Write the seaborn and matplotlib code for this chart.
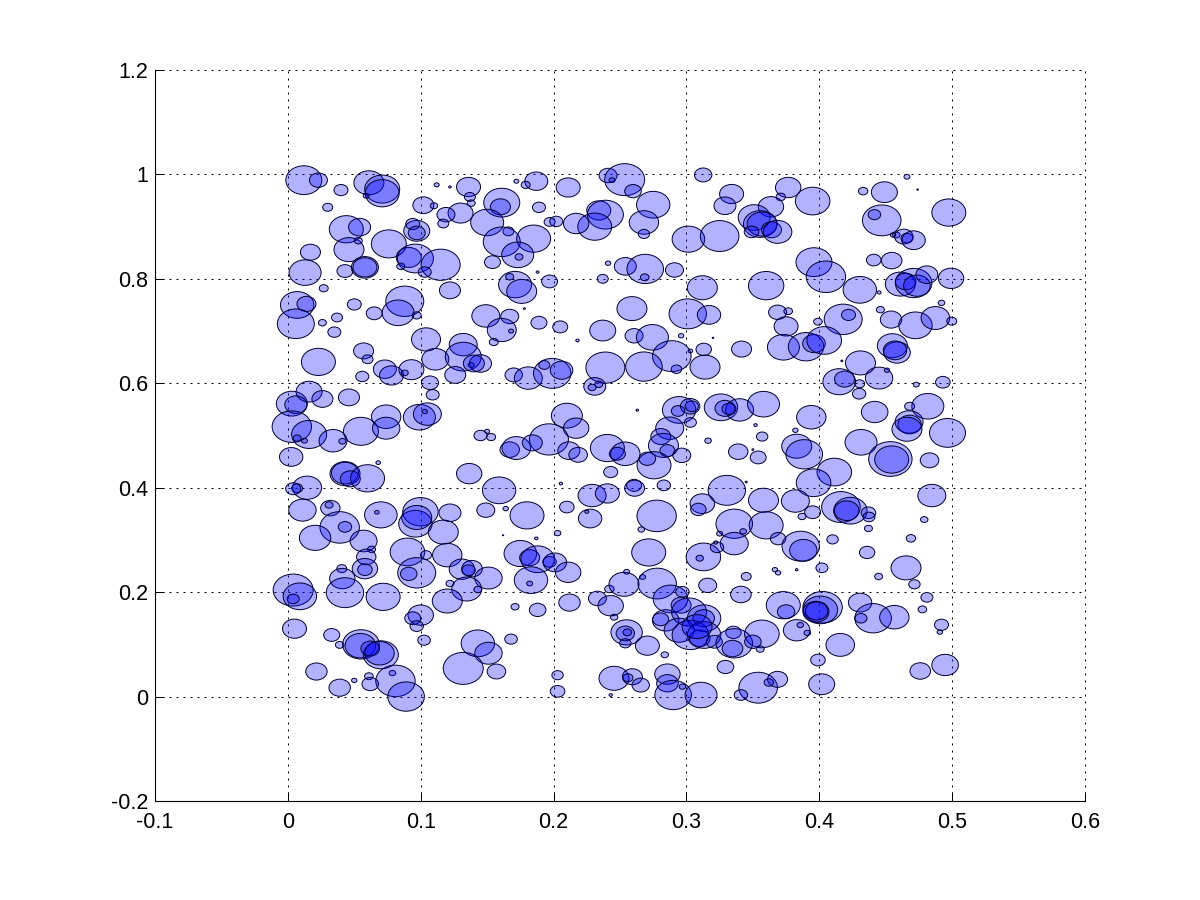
import numpy as np
import pandas as pd
import seaborn as sns
import matplotlib.pyplot as plt
from matplotlib.path import Path
from matplotlib.transforms import Affine2D

sns.set_style('white')
plt.rcParams['font.family'] = ['Liberation Sans', 'DejaVu Sans']

# bubble centres
x_vals = [
    .012, .023, .040, .061, .071, .071, .059, .030, .112, .122,
    .136, .137, .138, .102, .110, .130, .119, .117, .161, .160,
    .150, .166, .161, .185, .173, .174, .154, .189, .172, .187,
    .179, .197, .202, .211, .241, .2535, .244, .234, .239, .231,
    .217, .044, .054, .046, .053, .076, .097, .094, .097, .017,
    .013, .043, .058, .058, .091, .096, .115, .085, .103, .027,
    .122, .171, .176, .167, .197, .188, .237, .241, .254, .007,
    .014, .006, .050, .037, .026, .035, .088, .083, .065, .097,
    .259, .149, .167, .161, .168, .155, .178, .189, .205, .237,
    .218, .023, .057, .060, .056, .073, .078, .093, .088, .104,
    .111, .132, .132, .145, .138, .140, .126, .107, .109, .170,
    .181, .199, .206, .193, .239, .231, .234, .229, .003, .016,
    .026, .006, .046, .003, .016, .007, .034, .055, .074, .074,
    .099, .105, .103, .210, .217, .1965, .150, .145, .153, .2405,
    .167, .172, .184, .2115, .2185, .243, .0025, .0125, .041, .068,
    .043, .043, .047, .060, .1365, .159, .164, .149, .2055, .229,
    .2405, .210, .2275, .225, .180, .187, .203, .162, .0145, .007,
    .004, .011, .032, .031, .039, .0205, .043, .070, .067, .0998,
    .096, .097, .122, .117, .057, .063, .059, .058, .058, .090,
    .097, .091, .104, .120, .131, .1386, .136, .151, .122, .1346,
    .143, .120, .0406, .041, .043, .0717, .004, .009, .004,
    .175, .182, .188, .183, .182, .197, .201, .211, .233, .243,
    .2456, .242, .212, .188, .171, .005, .100, .094, .097, .1025,
    .033, .039, .055, .0546, .070, .069, .062, .143, .151, .132,
    .157, .168, .0215, .039, .050, .061, .062, .0787, .081, .089,
    .203, .203, .243, .2598, .275, .268, .268, .3126, .334,
    .329, .3766, .371, .395, .3636, .351, .3555, .357, .364, .3686,
    .349, .3015, .325, .433, .449, .466, .474, .4975, .447, .4415,
    .4555, .458, .4636, .466, .471, .396, .405, .4305, .445, .441,
    .4545, .461, .471, .465, .4735, .481, .4992, .269, .2686, .291,
    .312, .360, .301, .317, .3686, .3766, .375, .399, .418, .422,
    .446, .454, .4724, .4874, .492, .4997, .2606, .2744, .289, .268,
    .2925, .296, .303, .313, .314, .320, .3415, .373, .390, .396,
    .4037, .455, .4585, .457, .431, .417, .415, .419, .4304, .430,
    .445, .451, .473, .493, .2945, .3028, .304, .2937, .326, .340,
    .329, .332, .358, .394, .4417, .468, .4817, .4676, .468, .466,
    .4965, .2874, .303, .2807, .263, .352, .382, .357, .2827, .2857,
    .2965, .2756, .2706, .254, .248, .2606, .261, .283, .3163, .339,
    .354, .383, .3887, .4113, .3957, .4314, .4535, .4545, .483, .3304,
    .312, .309, .345, .358, .382, .336, .360, .325, .3427, .336,
    .369, .3128, .310, .323, .322, .386, .388, .402, .410, .395,
    .387, .4163, .4234, .4206, .437, .4374, .437, .4847, .479, .469,
    .436, .4653, .4716, .4447, .481, .4776, .492, .4907, .2716, .2776,
    .266, .255, .267, .253, .278, .316, .345, .341, .288, .297,
    .2844, .2806, .296, .302, .3133, .313, .2945, .303, .310, .3133,
    .308, .321, .255, .254, .2555, .254, .2706, .2837,
    .3354, .336, .3347, .3568, .350, .3555, .383, .3857, .391, .3729,
    .375, .4025, .4008, .3975, .398, .4307, .4405, .4314, .4565, .4158,
    .399, .4018, .3294, .4947, .476, .2455, .2593, .256, .2656, .2857,
    .2857, .290, .297, .311, .354, .3686, .362, .341, .3666, .369,
    .383, .350,
]
y_vals = [
    .989, .989, .970, .984, .972, .964, .959, .937, .980, .976,
    .976, .957, .945, .941, .940, .926, .923, .906, .946, .938,
    .908, .891, .871, .877, .846, .842, .832, .937, .987, .987,
    .980, .909, .910, .975, .998, .990, .989, .931, .923, .900,
    .906, .895, .899, .856, .873, .867, .892, .905, .888, .851,
    .812, .815, .822, .822, .841, .839, .827, .824, .813, .782,
    .778, .789, .776, .804, .795, .813, .800, .830, .824, .750,
    .752, .714, .751, .726, .716, .698, .757, .735, .734, .730,
    .743, .729, .728, .702, .700, .679, .743, .716, .708, .701,
    .682, .641, .662, .646, .613, .627, .615, .626, .620, .684,
    .646, .674, .651, .638, .635, .638, .616, .601, .578, .616,
    .610, .619, .625, .635, .630, .594, .598, .592, .561, .584,
    .570, .559, .573, .517, .502, .495, .490, .508, .536, .514,
    .535, .541, .546, .538, .514, .4925, .508, .500, .497, .476,
    .473, .476, .486, .471, .463, .430, .459, .490, .489, .448,
    .427, .428, .417, .418, .427, .395, .360, .357, .408, .385,
    .389, .363, .341, .354, .347, .303, .313, .309, .400, .399,
    .398, .357, .361, .367, .324, .304, .325, .348, .353, .354,
    .331, .343, .352, .315, .298, .282, .2675, .245, .243, .277,
    .237, .235, .271, .271, .244, .245, .242, .227, .2165, .206,
    .205, .183, .245, .226, .199, .191, .204, .192, .187,
    .274, .266, .263, .223, .2165, .258, .257, .238, .188, .174,
    .152, .206, .180, .166, .172, .130, .156, .150, .135, .108,
    .118, .099, .100, .0975, .080, .083, .092, .102, .083, .054,
    .048, .110, .048, .017, .031, .039, .024, .045, .030, .000,
    .041, .010, .003, .968, .942, .908, .886, .999, .9625,
    .940, .975, .957, .949, .938, .9175, .905, .905, .894, .890,
    .890, .876, .882, .968, .966, .9955, .971, .927, .912, .923,
    .884, .884, .881, .878, .874, .832, .804, .779, .774, .836,
    .835, .790, .792, .795, .787, .808, .801, .819, .803, .817,
    .783, .787, .733, .731, .736, .738, .709, .718, .7225, .731,
    .741, .722, .711, .725, .754, .719, .691, .688, .652, .632,
    .627, .691, .662, .665, .631, .687, .6655, .669, .670, .676,
    .682, .672, .659, .663, .639, .643, .603, .608, .599, .580,
    .610, .625, .5975, .602, .549, .556, .556, .547, .554, .549,
    .552, .551, .560, .535, .545, .556, .556, .526, .521, .512,
    .505, .514, .525, .498, .5485, .520, .510, .498, .481, .471,
    .462, .443, .4555, .465, .465, .4045, .399, .4045, .490, .469,
    .458, .4795, .464, .430, .4095, .487, .455, .454, .4525, .395,
    .3695, .3585, .411, .376, .3745, .331, .328, .312, .3165, .293,
    .3025, .2675, .265, .286, .295, .288, .280, .2465, .301, .353,
    .345, .363, .356, .356, .352, .344, .322, .385, .339, .303,
    .276, .2465, .215, .230, .190, .167, .1375, .1235, .276, .346,
    .320, .239, .229, .215, .2165, .213, .230, .1955, .187, .2006,
    .146, .148, .175, .162, .150, .150, .127, .118, .1115, .118,
    .134, .105, .123, .121, .123, .102, .0975, .080,
    .123, .102, .092, .120, .105, .091, .127, .137, .122, .175,
    .1625, .171, .166, .1625, .164, .180, .150, .150, .152, .099,
    .070, .0236, .0567, .0605, .049, .035, .038, .036, .022, .043,
    .0255, .003, .019, .003, .017, .033, .027, .003, .243, .237,
    .243, .473,
]
# half width of each bubble, in pixels of the 1200x900 picture
radius_vals = [
    18, 9, 7, 15, 17.5, 17, 3, 5, 2.5, 1.3,
    12, 5.5, 4, 10.5, 3.7, 12.5, 9, 5.5, 18, 10,
    16.5, 5.5, 18.5, 17, 16, 4, 8, 6.5, 2.5, 11.5,
    4.5, 5.5, 6.5, 12, 9, 20, 3, 12, 18, 17,
    12.7, 17, 11, 15, 4, 17.5, 13, 7, 8.5, 10,
    16, 8, 13.5, 12, 12.5, 18, 19.5, 4, 6.5, 4.5,
    10.5, 16.5, 15, 4, 8, 1.5, 5.5, 2.7, 11, 16.7,
    9.5, 18.5, 7, 5.5, 4, 6.5, 19, 16, 8, 4.5,
    15, 14, 9, 14.5, 2.5, 4.5, 1, 8, 7.5, 13,
    1.7, 17, 10, 5.5, 6.5, 11.5, 12, 12.5, 3.5, 14.5,
    13.5, 14, 18, 11, 3, 10.5, 10.5, 8.5, 6.5, 8.7,
    14, 18.7, 11.3, 5.5, 19.5, 11, 4, 4, 15.5, 13,
    10.5, 11, 10.5, 19.7, 17.5, 4, 14, 17.5, 14.7, 13.7,
    16, 14, 2.7, 15.5, 12.7, 19.5, 2.5, 6.5, 4.5, 17,
    9.7, 14.3, 10, 11, 9.3, 7, 11.7, 3, 3.5, 2.3,
    15, 13.5, 10, 17, 12.7, 16.7, 2.7, 9, 1.7, 14,
    12, 7.3, 11.7, 2, 17, 1.7, 3.3, .6, 14.5, 5.5,
    7.5, 13.7, 9.7, 4, 19.7, 15.7, 6.7, 16.3, 2.3, 17.7,
    16.7, 15, 11, 15, 13.5, 4, 9.7, 12.7, 7.3, 17.3,
    19, 8.3, 5.5, 14.7, 12.7, 10.3, 6.7, 13.7, 4, 15,
    4, 15, 5, 12.7, 18.7, 17, 20, 16.7, 6,
    16.3, 10, 16.7, 16.7, 3, 6.7, 11.7, 12.7, 9, 12.7,
    3.7, 4.7, 10.7, 8.3, 4, 12, 12.7, 8, 6.7, 6.3,
    8, 4.3, 18.3, 15.3, 17.5, 14.7, 9.3, 16.7, 13.7, 20,
    9.3, 6.3, 10.7, 10.7, 2.7, 4.3, 8.3, 3.3, 19.7, 18.3,
    5.7, 7.3, 1.7, 8.3, 16.7, 14.7, 5.7, 8.7, 12,
    11, 12.7, 4.7, 17.3, 12.7, 16, 16.7, 15, 10, 14.3,
    7.3, 16.3, 19.3, 4.7, 13, 3, .8, 17, 19.3, 6.3,
    2.7, 3.7, 9.3, 6, 11.7, 18, 19.7, 16.7, 2, 7.3,
    10.3, 15, 18.3, 10.3, 13.3, 11, 12.7, 18.3, 4.3, 9,
    15, 17.7, 18.7, 11.7, 9, 4.3, 12, 4.3, 19, 7,
    4, 10.7, 16.7, 14.3, 3.3, 5, 9, 16, 19.3, 18.3,
    5.3, 2.7, 2.3, 7.7, 15, .8, 10, 16, 17.7, 11.3,
    17.3, 15, 13.3, 11.7, 15, 1, 16.3, 10, 5, 6.7,
    13.7, 2.7, 3, 7.3, 16.7, 9.7, 6.7, 6.7, 16.7, 14,
    10, 7, 16, 14.7, 13.3, 5, 16, 14, 11.7, 15,
    18, 14, 6, 10, 1.3, 1.7, 2.7, 5.7, 15, 7.5,
    9, 17, 8.3, 14.7, 8, 7.5, 10, 6.7, 3.3, 9.7,
    8, 15, 18.3, 17.3, 17.3, 16, 21.7, 17, 9.3, 18.7,
    12.3, 7.7, 1, 15, 14, 18.3, 17, 3, 3.3, 14,
    7.7, 17.3, 3.7, 6.7, 2, 18.7, 13.7, 6, 5.7, 8,
    4, 19.3, 16.7, 12.3, 7.3, 6, 4, 14, 3.7, 4.7,
    7.7, 15, 5.7, 4, 6, 4.3, 7, 2.7, 17, 19.7,
    3.3, 3, 3, 15, 19.2, 9, 5, 10.3, 17.3, 6.7,
    13.3, 8, 10, 17.5, 16.7, 10.7, 15, 18.3, 10.3, 16.7,
    15, 8, 15.7, 9.2, 4.3, 5.7, 12, 3.7,
    7.7, 18.3, 10.3, 17.3, 8.3, 4, 13.3, 3.3, 3.3, 17,
    8.7, 19.7, 17.3, 13, 11.3, 11.7, 18.3, 6, 14.7, 14.3,
    7.3, 13, 8.3, 13.3, 10.3, 15, 10, 5, 8.7, 12.7,
    10.8, 18.3, 3.3, 16, 19.3, 10, 4.7, 6.7, 2.7, 2.7,
    1.3, 1,
]
x_ticks = [-0.1, 0, 0.1, 0.2, 0.3, 0.4, 0.5, 0.6]
y_ticks = [-0.2, 0, 0.2, 0.4, 0.6, 0.8, 1, 1.2]
x_labels = ['-0.1', '0', '0.1', '0.2', '0.3', '0.4', '0.5', '0.6']
y_labels = ['-0.2', '0', '0.2', '0.4', '0.6', '0.8', '1', '1.2']

df = pd.DataFrame({'x': x_vals, 'y': y_vals, 'r': radius_vals})
# scatter size is in points^2, 100 dpi
df['s'] = (2 * df['r'] * 0.72) ** 2

# bubbles are a bit wider than tall
ellipse = Path.unit_circle().transformed(Affine2D().scale(1, 0.8))

fig = plt.figure(figsize=(12, 9), dpi=100)
ax = fig.add_axes([155 / 1200, 1 - 801 / 900, 930 / 1200, 731 / 900])

sns.scatterplot(data=df, x='x', y='y', s=df['s'].values, marker=ellipse, ax=ax,
                facecolor=(0, 0, 1, 0.3), edgecolor='#000030', linewidth=0.7, legend=False, zorder=3)

ax.set_xlim(-0.1, 0.6)
ax.set_ylim(-0.2, 1.2)
ax.set_xticks(x_ticks)
ax.set_yticks(y_ticks)
ax.set_xticklabels(x_labels)
ax.set_yticklabels(y_labels)
ax.set_xlabel('')
ax.set_ylabel('')
ax.grid(True, color='black', linestyle=(0, (2, 5)), linewidth=0.72)
ax.set_axisbelow(True)
for line in ax.get_xgridlines() + ax.get_ygridlines():
    line.set_clip_on(False)
ax.tick_params(direction='in', length=6.5, width=0.72, labelsize=15.5, pad=5, color='black',
               labelcolor='black', top=False, right=False, bottom=True, left=True)
ax.tick_params(axis='x', pad=8)
# top and right edges are only the dotted grid
ax.spines['top'].set_visible(False)
ax.spines['right'].set_visible(False)
for side in ['left', 'bottom']:
    ax.spines[side].set_visible(True)
    ax.spines[side].set_color('black')
    ax.spines[side].set_linewidth(0.8)

fig.savefig('out.png', dpi=100)
